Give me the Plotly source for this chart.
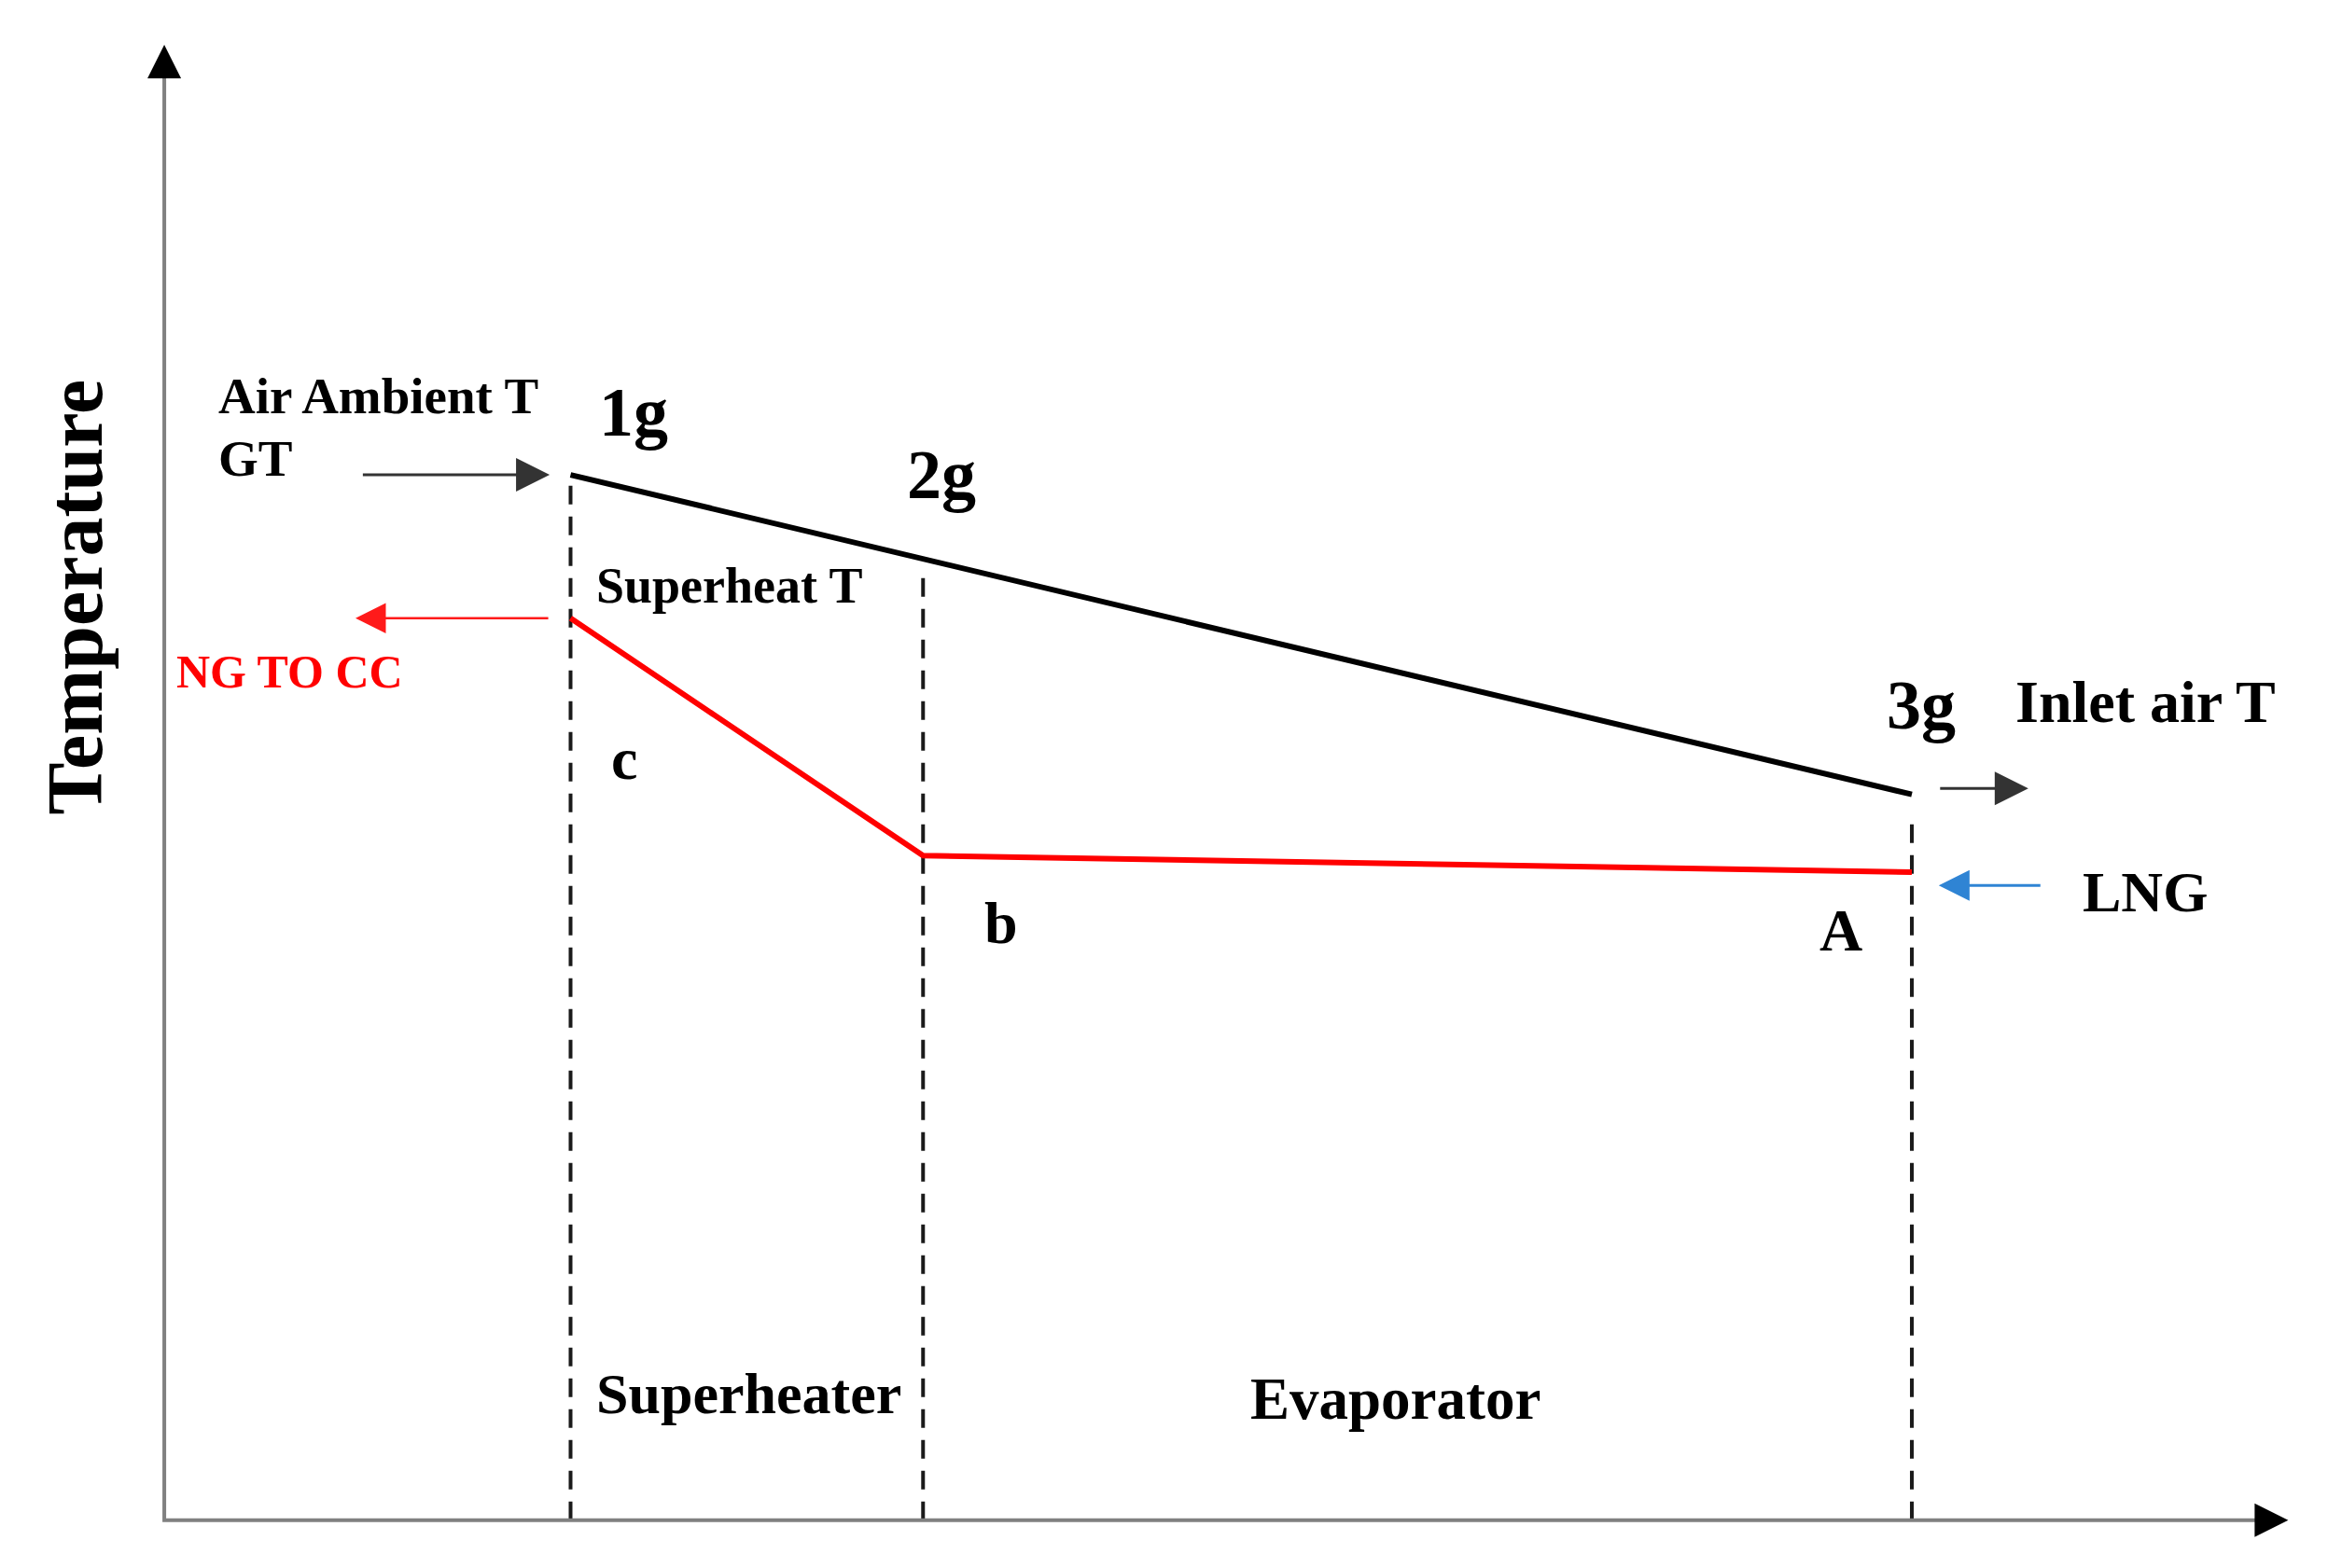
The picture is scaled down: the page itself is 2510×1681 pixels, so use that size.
import plotly.graph_objects as go

# heat-transfer positions (arbitrary units) of the three states: 1g/c, 2g/b, 3g/A
Q_STATES = [27.2, 50.8, 117.0]
GAS_T = [70.0, 64.4, 48.6]      # air / GT exhaust side (1g -> 2g -> 3g)
NG_T = [60.4, 44.5, 43.4]       # natural gas side (c -> b -> A)
DASH_TOP = [70.0, 63.3, 47.0]   # upper end of the section boundary lines
GAS_LABELS = ["1g", "2g", "3g"]
NG_LABELS = ["c", "b", "A"]
SECTIONS = ["Superheater", "Evaporator"]

X_END, Y_END = 142.2, 98.8
FONT = "Liberation Serif, Times New Roman, serif"
W, H = 2510, 1681

fig = go.Figure()

# section boundaries
for q, top in zip(Q_STATES, DASH_TOP):
    fig.add_trace(go.Scatter(x=[q, q], y=[0, top], mode="lines",
                             line=dict(color="#1a1a1a", width=4, dash="20px,13px"),
                             hoverinfo="skip"))

# hot gas line and NG line
fig.add_trace(go.Scatter(x=Q_STATES, y=GAS_T, mode="lines",
                         line=dict(color="#000", width=6), hoverinfo="skip"))
fig.add_trace(go.Scatter(x=Q_STATES, y=NG_T, mode="lines",
                         line=dict(color="#ff0000", width=6), hoverinfo="skip"))

# axes drawn as arrows
fig.add_trace(go.Scatter(x=[0, 0, X_END - 1], y=[Y_END - 1, 0, 0], mode="lines",
                         line=dict(color="#808080", width=4), hoverinfo="skip"))


def arrow(x0, y0, x1, y1, color, width=2.5, size=1.3):
    fig.add_annotation(x=x1, y=y1, ax=x0, ay=y0, xref="x", yref="y", axref="x", ayref="y",
                       text="", showarrow=True, arrowhead=2, arrowsize=size,
                       arrowwidth=width, arrowcolor=color)


arrow(0, Y_END - 1.5, 0, Y_END, "#000", width=4, size=1.8)
arrow(X_END - 1.5, 0, X_END, 0, "#000", width=4, size=1.8)

arrow(13.2, GAS_T[0], 25.8, GAS_T[0], "#333", width=3, size=2.4)
arrow(25.8, NG_T[0], 12.8, NG_T[0], "#ff1a1a", width=2.5, size=2.6)
arrow(118.8, 49.0, 124.8, 49.0, "#333", width=3, size=2.4)
arrow(125.7, 42.5, 118.8, 42.5, "#2f84d4", width=3, size=2.2)


def label(x, y, text, size, color="#000", xanchor="left", angle=0):
    fig.add_annotation(x=x, y=y, xref="x", yref="y", text=f"<b>{text}</b>", showarrow=False,
                       xanchor=xanchor, yanchor="middle", textangle=angle,
                       font=dict(family=FONT, size=size, color=color))


label(3.5, 75.3, "Air Ambient T", 55)
label(3.5, 71.1, "GT", 55)
label(0.7, 56.8, "NG TO CC", 50, color="#ff0000")
label(28.8, 62.6, "Superheat T", 54)
label(123.8, 54.8, "Inlet air T", 64)
label(128.3, 42.1, "LNG", 62)

for name, x, y in zip(GAS_LABELS, [29.0, 49.6, 115.2], [74.2, 70.0, 54.6]):
    label(x, y, name, 74)
for name, x, y in zip(NG_LABELS, [29.8, 54.8, 110.7], [51.0, 40.0, 39.5]):
    label(x, y, name, 64)

label(28.8, 8.5, SECTIONS[0], 62)
label(72.6, 8.1, SECTIONS[1], 63)
label(-6.0, 61.8, "Temperature", 84, xanchor="center", angle=-90)

fig.update_layout(
    width=W, height=H, margin=dict(l=0, r=0, t=0, b=0),
    paper_bgcolor="#fff", plot_bgcolor="#fff", showlegend=False,
    xaxis=dict(range=[-10.5, 146.3], visible=False, fixedrange=True),
    yaxis=dict(range=[-3.7, 101.3], visible=False, fixedrange=True),
)

fig.write_html("out.html")
